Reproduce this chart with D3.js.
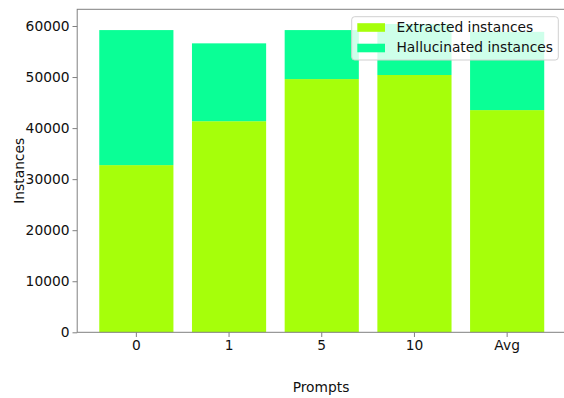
<!DOCTYPE html>
<html>
<head>
<meta charset="utf-8">
<script src="https://cdn.jsdelivr.net/npm/d3@7/dist/d3.min.js"></script>
<style>
  html, body { margin: 0; padding: 0; background: #fff; }
  svg { display: block; font-family: "DejaVu Sans", sans-serif; }
  svg text { font-family: "DejaVu Sans", sans-serif; font-size: 13.8px; fill: #111; }
</style>
</head>
<body>
<svg id="chart" width="564" height="398"></svg>
<script>
// Instance counts per prompt setting
const categories = ["0", "1", "5", "10", "Avg"];
const extracted = [32750, 41350, 49600, 50400, 43525];
const hallucinated = [26450, 15250, 9600, 10000, 15325];
const yTicks = [0, 10000, 20000, 30000, 40000, 50000, 60000];
const seriesNames = ["Extracted instances", "Hallucinated instances"];
const colors = ["#a6ff0a", "#0aff96"];

const plot = { left: 77.2, right: 566.7, top: 9.3, bottom: 332.3 };
const yMax = 63270;
const fontSize = 13.8;

const svg = d3.select("#chart");

const x = d3.scaleBand()
  .domain(categories)
  .range([90.0, 553.5])
  .paddingInner(0.2)
  .paddingOuter(0.1);

const y = d3.scaleLinear().domain([0, yMax]).range([plot.bottom, plot.top]);

// Stack the two series
const rows = categories.map((c, i) => ({ cat: c, extracted: extracted[i], hallucinated: hallucinated[i] }));
const stacked = d3.stack().keys(["extracted", "hallucinated"])(rows);

svg.append("g")
  .selectAll("g.series")
  .data(stacked)
  .join("g")
  .attr("class", "series")
  .attr("fill", (d, i) => colors[i])
  .selectAll("rect")
  .data(d => d)
  .join("rect")
  .attr("x", d => x(d.data.cat))
  .attr("width", x.bandwidth())
  .attr("y", d => y(d[1]))
  .attr("height", d => y(d[0]) - y(d[1]));

// Frame
svg.append("rect")
  .attr("x", plot.left).attr("y", plot.top)
  .attr("width", plot.right - plot.left).attr("height", plot.bottom - plot.top)
  .attr("fill", "none").attr("stroke", "#808080").attr("stroke-width", 1);

function styleAxis(sel) {
  sel.attr("font-size", fontSize).attr("font-family", "DejaVu Sans");
  sel.select(".domain").remove();
  sel.selectAll(".tick line").attr("stroke", "#808080");
  sel.selectAll(".tick text").attr("fill", "#111").style("font-size", fontSize + "px");
}

// Y axis
svg.append("g")
  .attr("transform", `translate(${plot.left},0)`)
  .call(d3.axisLeft(y).tickValues(yTicks).tickFormat(d3.format("d")).tickSize(4.7).tickPadding(3))
  .call(styleAxis);

// X axis
svg.append("g")
  .attr("transform", `translate(0,${plot.bottom})`)
  .call(d3.axisBottom(x).tickSize(4.7).tickPadding(3))
  .call(styleAxis);

// Axis titles
svg.append("text")
  .attr("x", 321).attr("y", 388)
  .attr("text-anchor", "middle").attr("dominant-baseline", "middle")
  .style("font-size", fontSize + "px")
  .text("Prompts");

svg.append("text")
  .attr("transform", `translate(20,${(plot.top + plot.bottom) / 2}) rotate(-90)`)
  .attr("text-anchor", "middle").attr("dominant-baseline", "middle")
  .style("font-size", fontSize + "px")
  .text("Instances");

// Legend
const legend = svg.append("g");
legend.append("rect")
  .attr("x", 351.7).attr("y", 16.7).attr("width", 206.6).attr("height", 43.3)
  .attr("rx", 3).attr("ry", 3)
  .attr("fill", "#fff").attr("fill-opacity", 0.8)
  .attr("stroke", "#d0d0d0").attr("stroke-width", 1);
const rowY = [27.5, 48];
seriesNames.forEach((name, i) => {
  legend.append("rect")
    .attr("x", 357.3).attr("y", rowY[i] - 4.3).attr("width", 27.7).attr("height", 8.6)
    .attr("fill", colors[i]);
  legend.append("text")
    .attr("x", 396.5).attr("y", rowY[i])
    .attr("dominant-baseline", "middle")
    .style("font-size", fontSize + "px")
    .text(name);
});
</script>
</body>
</html>
